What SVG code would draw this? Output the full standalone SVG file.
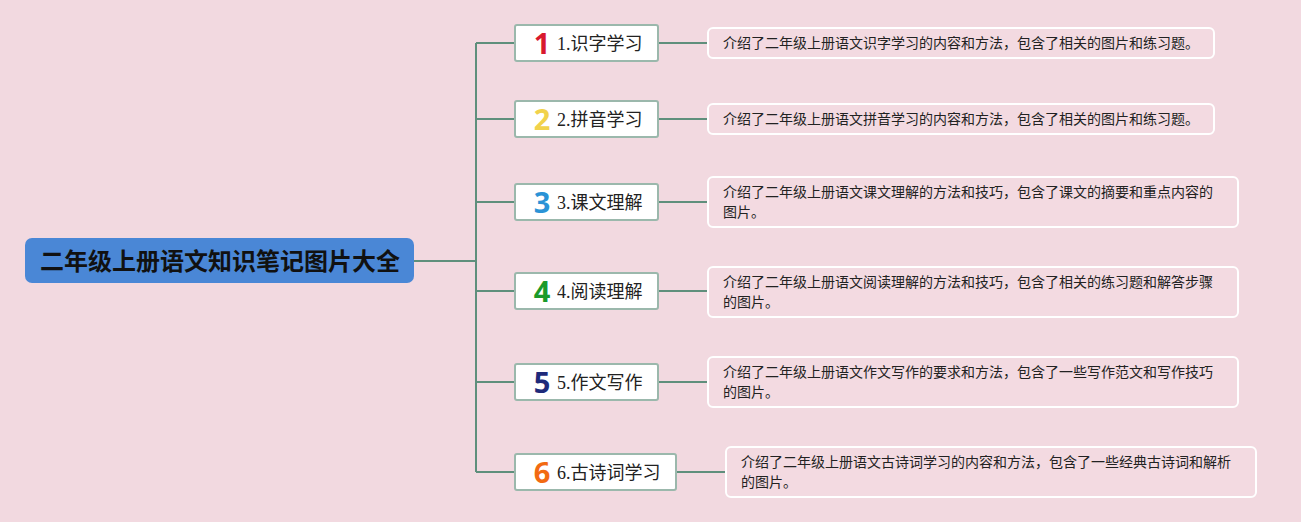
<svg xmlns="http://www.w3.org/2000/svg" width="1301" height="522" viewBox="0 0 1301 522">
<style>
.bg{fill:#f2d9e0}
.root{fill:#4a87d6}
.roott{font-family:"Noto Sans CJK SC",sans-serif;font-size:24px;font-weight:bold;fill:#111;text-anchor:middle}
.topic{fill:#ffffff;stroke:#9bb8ac;stroke-width:2}
.tt{font-family:"Liberation Serif","Noto Sans CJK SC",sans-serif;font-size:18px;fill:#222}
.num{font-family:"Open Sans","Liberation Sans",sans-serif;font-size:29px;font-weight:bold;text-anchor:middle}
.desc{fill:#f3dae1;stroke:#ffffff;stroke-width:2}
.dt{font-family:"Noto Sans CJK SC",sans-serif;font-size:14px;fill:#222}
.conn{stroke:#5f8f7c;stroke-width:2;fill:none}
</style>
<rect class="bg" x="0" y="0" width="1301" height="522"/>
<g id="connectors">
<path class="conn" d="M414 261H476M476 43V472M476 43H515M476 119H515M476 202H515M476 291H515M476 382H515M476 472H515"/>
<path class="conn" d="M658 43H708M658 119H708M658 202H708M658 291H708M658 382H708M676 472H726"/>
</g>
<g id="root">
<rect class="root" x="25" y="238" width="389" height="45" rx="7"/>
<text class="roott" x="220" y="270">二年级上册语文知识笔记图片大全</text>
</g>
<g id="topic1">
<rect class="topic" x="515" y="25" width="143" height="36" rx="2"/>
<text class="num" x="542" y="54" fill="#d8192e">1</text>
<text class="tt" x="557" y="50">1.识字学习</text>
</g>
<g id="topic2">
<rect class="topic" x="515" y="101" width="143" height="36" rx="2"/>
<text class="num" x="542" y="130" fill="#f1d24c">2</text>
<text class="tt" x="557" y="126">2.拼音学习</text>
</g>
<g id="topic3">
<rect class="topic" x="515" y="184" width="143" height="36" rx="2"/>
<text class="num" x="542" y="213" fill="#2b93d6">3</text>
<text class="tt" x="557" y="209">3.课文理解</text>
</g>
<g id="topic4">
<rect class="topic" x="515" y="273" width="143" height="36" rx="2"/>
<text class="num" x="542" y="302" fill="#1b9a2b">4</text>
<text class="tt" x="557" y="298">4.阅读理解</text>
</g>
<g id="topic5">
<rect class="topic" x="515" y="364" width="143" height="36" rx="2"/>
<text class="num" x="542" y="393" fill="#1e2a7a">5</text>
<text class="tt" x="557" y="389">5.作文写作</text>
</g>
<g id="topic6">
<rect class="topic" x="515" y="454" width="161" height="36" rx="2"/>
<text class="num" x="542" y="483" fill="#f26a12">6</text>
<text class="tt" x="557" y="479">6.古诗词学习</text>
</g>
<g id="desc1">
<rect class="desc" x="708" y="28" width="506" height="30" rx="5"/>
<text class="dt" x="723" y="48">介绍了二年级上册语文识字学习的内容和方法，包含了相关的图片和练习题。</text>
</g>
<g id="desc2">
<rect class="desc" x="708" y="104" width="506" height="30" rx="5"/>
<text class="dt" x="723" y="124">介绍了二年级上册语文拼音学习的内容和方法，包含了相关的图片和练习题。</text>
</g>
<g id="desc3">
<rect class="desc" x="708" y="177" width="530" height="50" rx="5"/>
<text class="dt" x="723" y="197">介绍了二年级上册语文课文理解的方法和技巧，包含了课文的摘要和重点内容的</text>
<text class="dt" x="723" y="217">图片。</text>
</g>
<g id="desc4">
<rect class="desc" x="708" y="267" width="530" height="50" rx="5"/>
<text class="dt" x="723" y="287">介绍了二年级上册语文阅读理解的方法和技巧，包含了相关的练习题和解答步骤</text>
<text class="dt" x="723" y="307">的图片。</text>
</g>
<g id="desc5">
<rect class="desc" x="708" y="357" width="530" height="50" rx="5"/>
<text class="dt" x="723" y="377">介绍了二年级上册语文作文写作的要求和方法，包含了一些写作范文和写作技巧</text>
<text class="dt" x="723" y="397">的图片。</text>
</g>
<g id="desc6">
<rect class="desc" x="726" y="447" width="530" height="50" rx="5"/>
<text class="dt" x="741" y="467">介绍了二年级上册语文古诗词学习的内容和方法，包含了一些经典古诗词和解析</text>
<text class="dt" x="741" y="487">的图片。</text>
</g>
</svg>
